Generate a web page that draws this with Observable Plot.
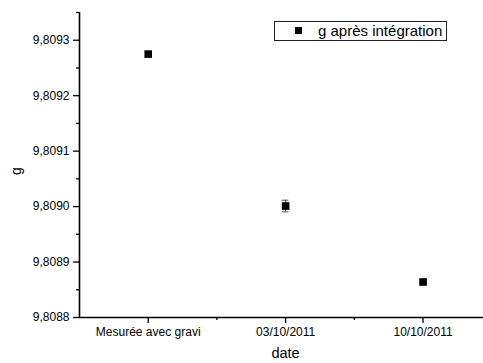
<!DOCTYPE html>
<html>
<head>
<meta charset="utf-8">
<script src="https://cdn.jsdelivr.net/npm/d3@7"></script>
<script src="https://cdn.jsdelivr.net/npm/@observablehq/plot@0.6"></script>
<style>
  html, body { margin: 0; padding: 0; background: #fff; }
  #wrap { position: relative; width: 483px; height: 363px; font-family: "Liberation Sans", Arial, sans-serif; }
  #legend { position: absolute; left: 274px; top: 21px; width: 171px; height: 18px; border: 1px solid #222; background: #fff; font-size: 15px; color: #000; }
  #legend .sw { position: absolute; left: 20px; top: 5px; width: 7px; height: 7px; background: #000; }
  #legend .tx { position: absolute; left: 43px; top: -1px; line-height: 20px; white-space: nowrap; }
</style>
</head>
<body>
<div id="wrap"><div id="legend"><span class="sw"></span><span class="tx"></span></div></div>
<script>
const categories = ["Mesurée avec gravi", "03/10/2011", "10/10/2011"];
const positions = [1, 2, 3];
const gValues = [9.809275, 9.809001, 9.808864];
const gErrors = [0, 0.0000105, 0];
const yTicks = [9.8088, 9.8089, 9.8090, 9.8091, 9.8092, 9.8093];
const yMinorTicks = [9.80885, 9.80895, 9.80905, 9.80915, 9.80925, 9.80935];
const xMinorTicks = [1.5, 2.5];
const seriesName = "g après intégration";
const xTitle = "date";
const yTitle = "g";

const data = positions.map((p, i) => ({x: p, g: gValues[i], e: gErrors[i]}));
const errData = data.filter(d => d.e > 0);

document.querySelector("#legend .tx").textContent = seriesName;

const chart = Plot.plot({
  width: 483,
  height: 363,
  marginLeft: 79,
  marginRight: 0,
  marginTop: 12,
  marginBottom: 46,
  style: {fontFamily: "'Liberation Sans', Arial, sans-serif", fontSize: "12px", background: "white", color: "black"},
  x: {domain: [0.5, 3.44]},
  y: {domain: [9.8088, 9.80935]},
  marks: [
    Plot.axisY({ticks: yMinorTicks, tickFormat: () => "", tickSize: 3, label: null, strokeWidth: 1.3}),
    Plot.axisY({ticks: yTicks, tickSize: 6, tickPadding: 4, strokeWidth: 1.3,
      tickFormat: d => d.toFixed(4).replace(".", ","), label: null, fontSize: 12}),
    Plot.axisX({ticks: xMinorTicks, tickFormat: () => "", tickSize: 3, label: null, strokeWidth: 1.3}),
    Plot.axisX({ticks: positions, tickSize: 6, tickPadding: 4, strokeWidth: 1.3,
      tickFormat: d => categories[positions.indexOf(d)], label: null, fontSize: 12}),
    Plot.ruleX([0.5], {stroke: "black", strokeWidth: 1.6}),
    Plot.ruleY([9.8088], {stroke: "black", strokeWidth: 1.6}),
    Plot.ruleX(errData, {x: "x", y1: d => d.g - d.e, y2: d => d.g + d.e, stroke: "#333", strokeWidth: 1}),
    Plot.ruleY(errData, {y: d => d.g - d.e, x1: d => d.x - 0.025, x2: d => d.x + 0.025, stroke: "#555", strokeWidth: 1}),
    Plot.ruleY(errData, {y: d => d.g + d.e, x1: d => d.x - 0.025, x2: d => d.x + 0.025, stroke: "#555", strokeWidth: 1}),
    Plot.dot(data, {x: "x", y: "g", symbol: "square", r: 4.3, fill: "black", stroke: "none"}),
    Plot.text([xTitle], {frameAnchor: "bottom", dy: 40, fontSize: 14.5, dx: 4}),
    Plot.text([yTitle], {frameAnchor: "left", dx: -63, dy: 10, rotate: -90, fontSize: 14})
  ]
});
document.getElementById("wrap").prepend(chart);
</script>
</body>
</html>
